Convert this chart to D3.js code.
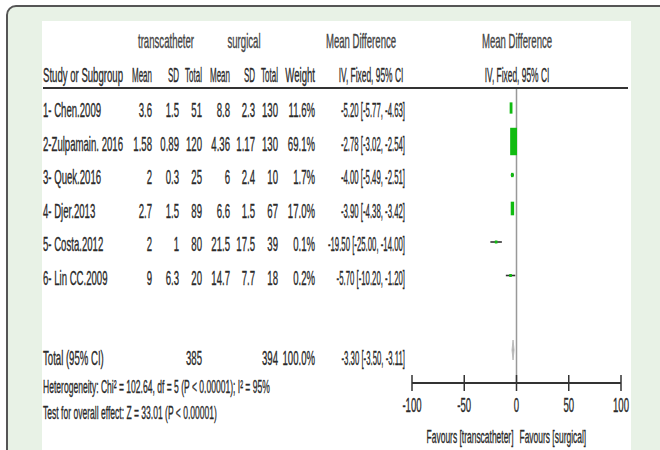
<!DOCTYPE html>
<html><head><meta charset="utf-8">
<script src="https://cdn.jsdelivr.net/npm/d3@7"></script>
<style>html,body{margin:0;padding:0;background:#fff;}svg{display:block;}</style>
</head><body>
<svg id="c" width="660" height="450"></svg>
<script>
// ---- data ----
const studies = ["1- Chen.2009","2-Zulpamain. 2016","3- Quek.2016","4- Djer.2013","5- Costa.2012","6- Lin CC.2009"];
const tMean = ["3.6","1.58","2","2.7","2","9"];
const tSD   = ["1.5","0.89","0.3","1.5","1","6.3"];
const tN    = [51,120,25,89,80,20];
const sMean = ["8.8","4.36","6","6.6","21.5","14.7"];
const sSD   = ["2.3","1.17","2.4","1.5","17.5","7.7"];
const sN    = [130,130,10,67,39,18];
const weight = [11.6,69.1,1.7,17.0,0.1,0.2];
const md = [-5.20,-2.78,-4.00,-3.90,-19.50,-5.70];
const lo = [-5.77,-3.02,-5.49,-4.38,-25.00,-10.20];
const hi = [-4.63,-2.54,-2.51,-3.42,-14.00,-1.20];
const total = {label:"Total (95% CI)", tN:385, sN:394, weight:100.0, md:-3.30, lo:-3.50, hi:-3.11};
const axisTicks = [-100,-50,0,50,100];
const footer = ["Heterogeneity: Chi\u00B2 = 102.64, df = 5 (P < 0.00001); I\u00B2 = 95%",
                "Test for overall effect: Z = 33.01 (P < 0.00001)"];
const favours = ["Favours [transcatheter]","Favours [surgical]"];

// ---- drawing ----
const svg = d3.select("#c");
const FS = 20, SX = 0.48, TXT = "#2a2a2a";
const font = "'Liberation Sans', Arial, sans-serif";
const loc = d3.formatLocale({decimal:".",thousands:",",grouping:[3],currency:["",""],minus:"-"});
const f2 = loc.format(".2f"), f1 = loc.format(".1f");

svg.append("rect").attr("x",7).attr("y",6).attr("width",720).attr("height",520).attr("rx",9)
  .attr("fill","#e8f2e6").attr("stroke","#555").attr("stroke-width",2);
svg.append("rect").attr("x",42).attr("y",21).attr("width",589).attr("height",440).attr("fill","#fff");

function txt(x,y,s,anchor,opt){
  opt = opt||{};
  return svg.append("text")
    .attr("transform",`translate(${x},${y}) scale(${opt.sx||SX},1)`)
    .attr("dy","0.35em").attr("text-anchor",anchor||"start")
    .attr("font-family",font).attr("font-size",opt.fs||FS)
    .attr("fill",opt.fill||TXT).attr("stroke",opt.fill||TXT).attr("stroke-width",0.35)
    .text(s);
}

const y = d3.scaleLinear().domain([0,studies.length-1]).range([110,277.5]);
const x = d3.scaleLinear().domain([-100,100]).range([412,621]);
const box = d3.scaleSqrt().domain([0,100]).range([0,33]);

// columns (right edges)
const colX = {tMean:152,tSD:179,tN:202,sMean:230,sSD:255,sN:278,w:315,ci:405};
const CIX = 0.39;

// headers
txt(166,41,"transcatheter","middle",{fill:"#444"});
txt(244,41,"surgical","middle",{fill:"#444"});
txt(361,41,"Mean Difference","middle",{fill:"#444"});
txt(517,41,"Mean Difference","middle",{fill:"#444"});
txt(43,75,"Study or Subgroup","start");
[["Mean","tMean"],["SD","tSD"],["Total","tN"],["Mean","sMean"],["SD","sSD"],["Total","sN"]]
  .forEach(([t,k])=>txt(colX[k],75,t,"end",{sx:0.4}));
txt(colX.w,75,"Weight","end");
txt(371,75,"IV, Fixed, 95% CI","middle",{sx:0.42});
txt(517,75,"IV, Fixed, 95% CI","middle",{sx:0.42});

svg.append("line").attr("x1",43).attr("x2",628).attr("y1",88).attr("y2",88)
  .attr("stroke","#333").attr("stroke-width",2.2);

// zero line
svg.append("line").attr("x1",x(0)).attr("x2",x(0)).attr("y1",89).attr("y2",383)
  .attr("stroke","#999").attr("stroke-width",1.5);

studies.forEach((s,i)=>{
  const yy = y(i);
  txt(43,yy,s,"start");
  txt(colX.tMean,yy,tMean[i],"end");
  txt(colX.tSD,yy,tSD[i],"end");
  txt(colX.tN,yy,tN[i],"end");
  txt(colX.sMean,yy,sMean[i],"end");
  txt(colX.sSD,yy,sSD[i],"end");
  txt(colX.sN,yy,sN[i],"end");
  txt(colX.w,yy,f1(weight[i])+"%","end");
  txt(colX.ci,yy,`${f2(md[i])} [${f2(lo[i])}, ${f2(hi[i])}]`,"end",{sx:CIX});
  const by = yy-2;
  svg.append("line").attr("x1",x(lo[i])).attr("x2",x(hi[i])).attr("y1",by).attr("y2",by)
    .attr("stroke","#333").attr("stroke-width",1.6);
  const h = Math.max(3, box(weight[i])), w = Math.max(2.6, h*0.25);
  svg.append("rect").attr("x",x(md[i])-w/2).attr("y",by-h/2).attr("width",w).attr("height",h)
    .attr("fill","#11bb11");
});

// total
const ty = 358;
txt(43,ty,total.label,"start");
txt(colX.tN,ty,total.tN,"end");
txt(colX.sN,ty,total.sN,"end");
txt(colX.w,ty,f1(total.weight)+"%","end");
txt(colX.ci,ty,`${f2(total.md)} [${f2(total.lo)}, ${f2(total.hi)}]`,"end",{sx:CIX});
const dy0 = ty-8;
svg.append("path")
  .attr("d",`M${x(total.lo)-0.8},${dy0} L${x(total.md)},${dy0-10} L${x(total.hi)+0.8},${dy0} L${x(total.md)},${dy0+10} Z`)
  .attr("fill","#aaa").attr("stroke","#bbb").attr("stroke-width",1);

// footer
txt(43,386,footer[0],"start",{fs:19,sx:0.45});
txt(43,412,footer[1],"start",{fs:19,sx:0.45});

// axis
const ax = svg.append("g").attr("transform","translate(0,383)");
ax.append("line").attr("x1",x(-100)).attr("x2",x(100)).attr("stroke","#333").attr("stroke-width",2.2);
ax.selectAll("line.t").data(axisTicks).enter().append("line").attr("class","t")
  .attr("x1",d=>x(d)).attr("x2",d=>x(d)).attr("y1",-8).attr("y2",8)
  .attr("stroke","#333").attr("stroke-width",1.5);
axisTicks.forEach(t=>txt(x(t),405,String(t),"middle"));
txt(x(0)-3,437,favours[0],"end",{fs:18,sx:0.47});
txt(x(0)+3,437,favours[1],"start",{fs:18,sx:0.47});
</script>
</body></html>
